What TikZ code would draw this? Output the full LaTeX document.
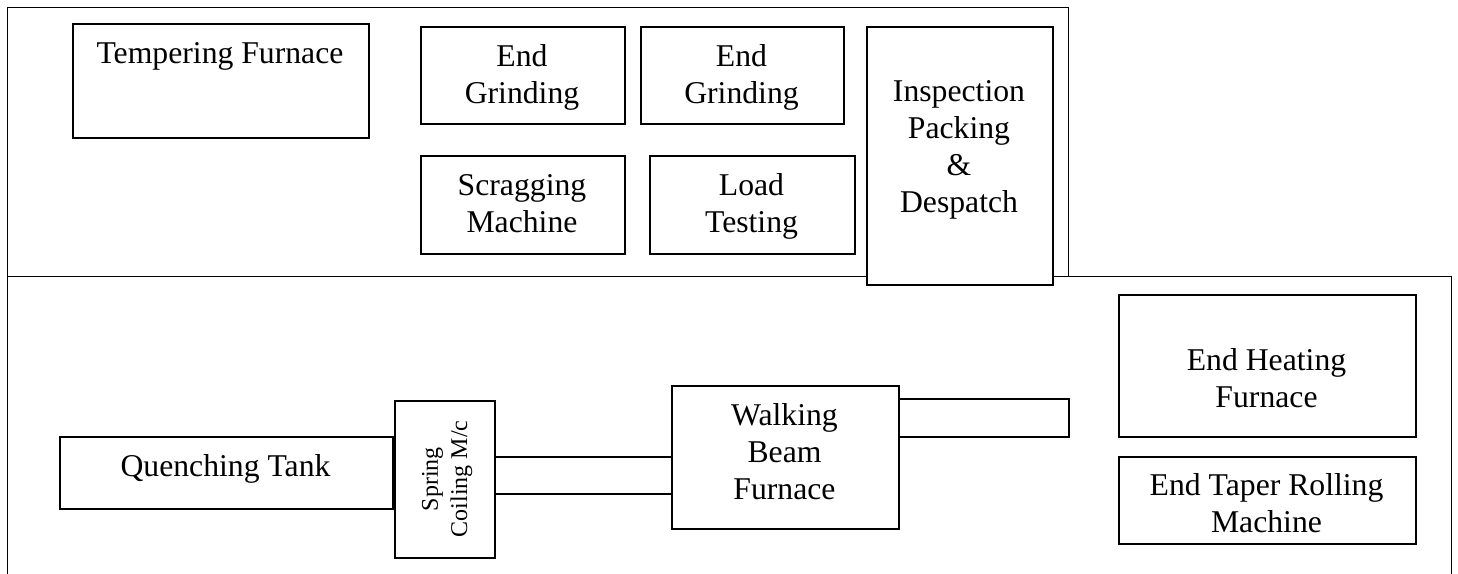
\documentclass[tikz,border=0pt]{standalone}
\usepackage{fontspec}
\setmainfont{Liberation Serif}
\begin{document}
\begin{tikzpicture}[x=1pt,y=-1pt,
  area/.style={draw,line width=1.3pt,inner sep=0pt,anchor=north west},
  box/.style={draw,line width=1.5pt,fill=white,inner sep=0pt,anchor=north west},
  txt/.style={inner sep=0pt,align=center,anchor=north,font=\fontsize{31.7}{37}\selectfont},
  smalltxt/.style={inner sep=0pt,align=center,anchor=north,rotate=90,font=\fontsize{24}{29.4}\selectfont}]
\useasboundingbox (0,0) rectangle (1458,573);
% regions
\node[area,minimum width=1444pt,minimum height=330pt] (lower) at (7,276) {};
\node[area,minimum width=1061pt,minimum height=269pt] (upper) at (7,7) {};
% upper bay
\node[box,minimum width=296pt,minimum height=114pt] (temper) at (72,23) {};
\node[box,minimum width=204pt,minimum height=97pt] (egA) at (420,26) {};
\node[box,minimum width=203pt,minimum height=97pt] (egB) at (640,26) {};
\node[box,minimum width=204pt,minimum height=98pt] (scrag) at (420,155) {};
\node[box,minimum width=205pt,minimum height=98pt] (load) at (649,155) {};
\node[box,minimum width=186pt,minimum height=258pt] (insp) at (866,26) {};
% lower bay
\node[box,minimum width=333pt,minimum height=72pt] (quench) at (59,436) {};
\node[box,minimum width=100pt,minimum height=157pt] (spring) at (394,400) {};
\node[box,minimum width=177pt,minimum height=37pt] (convA) at (494,456) {};
\node[box,minimum width=227pt,minimum height=143pt] (walk) at (671,385) {};
\node[box,minimum width=170pt,minimum height=38pt] (convB) at (898,398) {};
\node[box,minimum width=297pt,minimum height=142pt] (heat) at (1118,294) {};
\node[box,minimum width=297pt,minimum height=87pt] (taper) at (1118,456) {};
% labels
\node[txt] (temperT) at (220,37.1) {\strut Tempering Furnace};
\node[txt] (egAT) at (522,40.1) {\strut End\\Grinding};
\node[txt] (egBT) at (741.5,40.1) {\strut End\\Grinding};
\node[txt] (scragT) at (522,169.1) {\strut Scragging\\Machine};
\node[txt] (loadT) at (751.5,169.1) {\strut Load\\Testing};
\node[txt] (inspT) at (959,75.8) {\strut Inspection\\Packing\\\&\\Despatch};
\node[txt] (quenchT) at (225.5,450.8) {\strut Quenching Tank};
\node[txt] (walkT) at (784.5,399.1) {\strut Walking\\Beam\\Furnace};
\node[txt] (heatT) at (1266.5,344.1) {\strut End Heating\\Furnace};
\node[txt] (taperT) at (1266.5,469.1) {\strut End Taper Rolling\\Machine};
\node[smalltxt] (springT) at (417,479) {\strut Spring\\Coiling M/c};
\end{tikzpicture}
\end{document}
